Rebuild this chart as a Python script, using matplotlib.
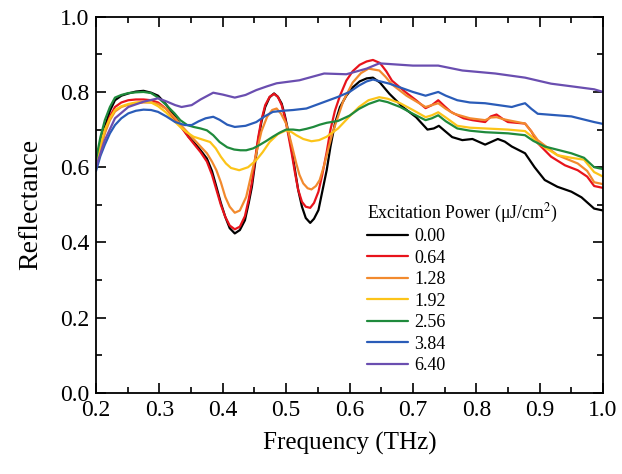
import matplotlib
matplotlib.use("Agg")
import matplotlib.pyplot as plt
from matplotlib.ticker import MultipleLocator, FormatStrFormatter

plt.rcParams['font.family'] = ['Liberation Serif', 'DejaVu Serif']
plt.rcParams['mathtext.fontset'] = 'stix'

labels = ["0.00", "0.64", "1.28", "1.92", "2.56", "3.84", "6.40"]
colors = ["#000000", "#e8131b", "#f28a2e", "#fcc419", "#1f8a3c", "#2a5cb8", "#6a4eb0"]

f_000 = [0.200, 0.207, 0.214, 0.222, 0.230, 0.240, 0.251, 0.263, 0.275, 0.287, 0.298, 0.311, 0.325,
         0.335, 0.346, 0.354, 0.365, 0.375, 0.383, 0.390, 0.397, 0.404, 0.411, 0.419, 0.427, 0.435,
         0.441, 0.446, 0.451, 0.456, 0.461, 0.467, 0.474, 0.481, 0.487, 0.493, 0.498, 0.503, 0.509,
         0.514, 0.519, 0.525, 0.531, 0.538, 0.544, 0.551, 0.557, 0.564, 0.570, 0.577, 0.585, 0.595,
         0.605, 0.616, 0.627, 0.637, 0.648, 0.663, 0.684, 0.705, 0.723, 0.733, 0.741, 0.750, 0.762,
         0.778, 0.794, 0.814, 0.834, 0.845, 0.856, 0.877, 0.892, 0.908, 0.928, 0.950, 0.966, 0.986, 1.000]
r_000 = [0.600, 0.660, 0.707, 0.750, 0.778, 0.790, 0.796, 0.801, 0.803, 0.798, 0.790, 0.766, 0.734,
         0.708, 0.681, 0.667, 0.645, 0.623, 0.590, 0.548, 0.505, 0.468, 0.438, 0.424, 0.433, 0.459,
         0.505, 0.548, 0.610, 0.672, 0.720, 0.760, 0.786, 0.796, 0.787, 0.769, 0.737, 0.698, 0.645,
         0.592, 0.540, 0.495, 0.465, 0.452, 0.463, 0.486, 0.535, 0.592, 0.655, 0.716, 0.760, 0.790,
         0.812, 0.828, 0.836, 0.838, 0.825, 0.795, 0.760, 0.733, 0.700, 0.703, 0.710, 0.697, 0.680,
         0.672, 0.675, 0.660, 0.675, 0.668, 0.655, 0.637, 0.600, 0.566, 0.548, 0.535, 0.520, 0.490, 0.485]

f_064 = [0.200, 0.207, 0.214, 0.222, 0.230, 0.240, 0.251, 0.263, 0.275, 0.287, 0.298, 0.311, 0.325,
         0.335, 0.346, 0.354, 0.365, 0.375, 0.383, 0.390, 0.397, 0.404, 0.411, 0.419, 0.427, 0.435,
         0.441, 0.446, 0.451, 0.456, 0.461, 0.467, 0.474, 0.481, 0.487, 0.493, 0.498, 0.503, 0.509,
         0.514, 0.519, 0.525, 0.531, 0.538, 0.544, 0.551, 0.557, 0.564, 0.570, 0.577, 0.585, 0.595,
         0.605, 0.616, 0.627, 0.637, 0.648, 0.658, 0.667, 0.688, 0.705, 0.720, 0.730, 0.740, 0.750,
         0.760, 0.780, 0.794, 0.814, 0.823, 0.832, 0.842, 0.850, 0.877, 0.887, 0.897, 0.918, 0.940,
         0.960, 0.975, 0.986, 1.000]
r_064 = [0.600, 0.650, 0.695, 0.735, 0.760, 0.772, 0.778, 0.780, 0.780, 0.778, 0.772, 0.755, 0.725,
         0.705, 0.680, 0.663, 0.640, 0.615, 0.580, 0.540, 0.500, 0.468, 0.445, 0.435, 0.442, 0.470,
         0.515, 0.560, 0.620, 0.680, 0.725, 0.765, 0.787, 0.795, 0.787, 0.765, 0.733, 0.690, 0.635,
         0.585, 0.540, 0.508, 0.495, 0.492, 0.505, 0.535, 0.580, 0.640, 0.700, 0.750, 0.790, 0.830,
         0.855, 0.872, 0.881, 0.885, 0.877, 0.855, 0.830, 0.800, 0.778, 0.757, 0.765, 0.778, 0.762,
         0.747, 0.730, 0.725, 0.720, 0.735, 0.740, 0.728, 0.720, 0.716, 0.695, 0.664, 0.628, 0.605,
         0.592, 0.575, 0.550, 0.545]

f_128 = [0.200, 0.207, 0.214, 0.222, 0.230, 0.240, 0.251, 0.263, 0.275, 0.287, 0.298, 0.311, 0.325,
         0.335, 0.346, 0.354, 0.365, 0.375, 0.383, 0.390, 0.397, 0.404, 0.411, 0.419, 0.427, 0.437,
         0.445, 0.453, 0.461, 0.470, 0.478, 0.485, 0.492, 0.500, 0.508, 0.516, 0.521, 0.527, 0.534,
         0.540, 0.547, 0.553, 0.560, 0.566, 0.573, 0.580, 0.590, 0.605, 0.618, 0.630, 0.647, 0.657,
         0.667, 0.690, 0.720, 0.730, 0.740, 0.752, 0.765, 0.790, 0.814, 0.823, 0.832, 0.842, 0.850,
         0.877, 0.887, 0.897, 0.928, 0.960, 0.975, 0.986, 1.000]
r_128 = [0.600, 0.650, 0.690, 0.725, 0.748, 0.760, 0.766, 0.770, 0.772, 0.772, 0.768, 0.755, 0.730,
         0.710, 0.690, 0.675, 0.655, 0.637, 0.615, 0.592, 0.560, 0.521, 0.495, 0.479, 0.485, 0.521,
         0.580, 0.637, 0.695, 0.734, 0.752, 0.756, 0.742, 0.716, 0.665, 0.610, 0.580, 0.557, 0.544,
         0.541, 0.550, 0.566, 0.605, 0.645, 0.690, 0.725, 0.775, 0.825, 0.850, 0.862, 0.857, 0.840,
         0.820, 0.790, 0.760, 0.765, 0.770, 0.755, 0.742, 0.730, 0.725, 0.732, 0.733, 0.728, 0.725,
         0.716, 0.695, 0.672, 0.632, 0.610, 0.590, 0.560, 0.555]

f_192 = [0.200, 0.207, 0.214, 0.222, 0.230, 0.240, 0.251, 0.263, 0.275, 0.287, 0.298, 0.311, 0.322,
         0.333, 0.343, 0.354, 0.367, 0.380, 0.389, 0.397, 0.405, 0.413, 0.426, 0.440, 0.453, 0.463,
         0.474, 0.487, 0.500, 0.508, 0.516, 0.527, 0.540, 0.552, 0.564, 0.582, 0.600, 0.615, 0.630,
         0.647, 0.660, 0.680, 0.700, 0.720, 0.730, 0.740, 0.752, 0.770, 0.790, 0.814, 0.850, 0.877,
         0.887, 0.897, 0.928, 0.950, 0.970, 0.986, 1.000]
r_192 = [0.600, 0.660, 0.700, 0.730, 0.752, 0.762, 0.768, 0.772, 0.774, 0.772, 0.762, 0.745, 0.725,
         0.707, 0.693, 0.681, 0.674, 0.667, 0.650, 0.628, 0.610, 0.598, 0.592, 0.600, 0.619, 0.640,
         0.667, 0.688, 0.698, 0.694, 0.685, 0.675, 0.669, 0.672, 0.681, 0.703, 0.735, 0.760, 0.778,
         0.786, 0.782, 0.770, 0.752, 0.733, 0.738, 0.746, 0.732, 0.710, 0.705, 0.703, 0.700, 0.696,
         0.682, 0.664, 0.632, 0.625, 0.620, 0.587, 0.575]

f_256 = [0.200, 0.207, 0.214, 0.222, 0.230, 0.240, 0.251, 0.263, 0.275, 0.287, 0.298, 0.311, 0.324,
         0.333, 0.344, 0.354, 0.365, 0.375, 0.385, 0.395, 0.407, 0.418, 0.428, 0.437, 0.448, 0.458,
         0.469, 0.479, 0.490, 0.500, 0.511, 0.521, 0.532, 0.543, 0.553, 0.564, 0.582, 0.600, 0.615,
         0.630, 0.647, 0.660, 0.680, 0.700, 0.720, 0.730, 0.740, 0.752, 0.770, 0.790, 0.814, 0.850,
         0.877, 0.890, 0.908, 0.950, 0.970, 0.986, 1.000]
r_256 = [0.620, 0.680, 0.725, 0.760, 0.785, 0.792, 0.797, 0.799, 0.800, 0.797, 0.785, 0.765, 0.743,
         0.725, 0.712, 0.707, 0.703, 0.698, 0.685, 0.667, 0.653, 0.647, 0.645, 0.645, 0.650, 0.659,
         0.670, 0.681, 0.692, 0.700, 0.700, 0.698, 0.702, 0.707, 0.713, 0.718, 0.723, 0.737, 0.755,
         0.768, 0.778, 0.773, 0.760, 0.742, 0.725, 0.730, 0.738, 0.722, 0.703, 0.697, 0.693, 0.690,
         0.685, 0.670, 0.655, 0.637, 0.625, 0.600, 0.595]

f_384 = [0.200, 0.207, 0.214, 0.222, 0.230, 0.240, 0.251, 0.263, 0.275, 0.287, 0.298, 0.311, 0.325,
         0.340, 0.351, 0.362, 0.373, 0.385, 0.395, 0.407, 0.419, 0.436, 0.453, 0.466, 0.479, 0.495,
         0.511, 0.532, 0.553, 0.582, 0.600, 0.615, 0.627, 0.637, 0.663, 0.700, 0.720, 0.730, 0.740,
         0.752, 0.770, 0.790, 0.814, 0.856, 0.866, 0.877, 0.887, 0.897, 0.950, 0.986, 1.000]
r_384 = [0.590, 0.630, 0.660, 0.690, 0.712, 0.730, 0.743, 0.750, 0.753, 0.752, 0.747, 0.735, 0.720,
         0.712, 0.712, 0.722, 0.730, 0.734, 0.726, 0.713, 0.707, 0.710, 0.720, 0.735, 0.747, 0.750,
         0.752, 0.756, 0.769, 0.787, 0.800, 0.817, 0.828, 0.833, 0.822, 0.800, 0.790, 0.795, 0.800,
         0.790, 0.778, 0.772, 0.770, 0.760, 0.765, 0.770, 0.755, 0.742, 0.735, 0.720, 0.715]

f_640 = [0.200, 0.214, 0.230, 0.251, 0.275, 0.298, 0.311, 0.325, 0.335, 0.351, 0.365, 0.385, 0.400,
         0.419, 0.436, 0.453, 0.470, 0.485, 0.521, 0.560, 0.595, 0.627, 0.647, 0.700, 0.740, 0.778,
         0.830, 0.877, 0.918, 0.950, 0.986, 1.000]
r_640 = [0.600, 0.672, 0.730, 0.760, 0.774, 0.783, 0.775, 0.765, 0.760, 0.765, 0.780, 0.798, 0.793,
         0.785, 0.792, 0.805, 0.815, 0.823, 0.831, 0.849, 0.847, 0.862, 0.876, 0.870, 0.870, 0.857,
         0.849, 0.838, 0.822, 0.815, 0.807, 0.800]

series = [(f_000, r_000), (f_064, r_064), (f_128, r_128), (f_192, r_192),
          (f_256, r_256), (f_384, r_384), (f_640, r_640)]

fig = plt.figure(figsize=(6.22, 4.74), dpi=100)
ax = fig.add_axes([0.1543, 0.1709, 0.8152, 0.7939])

for (fx, ry), lab, col in zip(series, labels, colors):
    ax.plot(fx, ry, color=col, lw=1.6, label=lab,
            solid_joinstyle='round', solid_capstyle='round')

ax.set_xlim(0.2, 1.0)
ax.set_ylim(0.0, 1.0)
ax.xaxis.set_major_locator(MultipleLocator(0.1))
ax.xaxis.set_minor_locator(MultipleLocator(0.05))
ax.yaxis.set_major_locator(MultipleLocator(0.2))
ax.yaxis.set_minor_locator(MultipleLocator(0.1))
ax.xaxis.set_major_formatter(FormatStrFormatter('%.1f'))
ax.yaxis.set_major_formatter(FormatStrFormatter('%.1f'))
ax.tick_params(which='both', direction='in', top=True, right=True, labelsize=17, width=1.2)
ax.tick_params(which='major', length=7, pad=5)
ax.tick_params(which='minor', length=4)
for sp in ax.spines.values():
    sp.set_linewidth(1.3)

ax.set_xlabel("Frequency (THz)", fontsize=18, labelpad=8)
ax.set_ylabel("Reflectance", fontsize=20, labelpad=12)

leg = ax.legend(title="Excitation Power (\u03bcJ/cm$^2$)", loc='upper left',
                bbox_to_anchor=(0.5845, 0.581), bbox_transform=fig.transFigure,
                frameon=False, fontsize=13, title_fontsize=12.8,
                handlelength=2.25, handletextpad=0.35, labelspacing=0.25, borderaxespad=0,
                borderpad=0.2)
leg._legend_box.align = "left"
leg._legend_box.sep = 2

fig.savefig("out.png", dpi=100)
